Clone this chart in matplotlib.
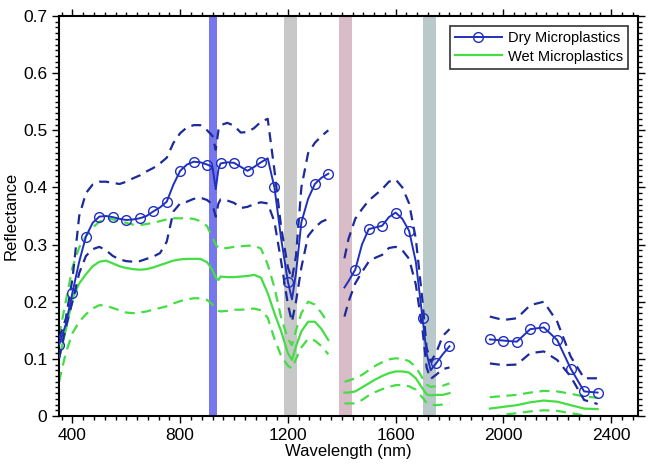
import numpy as np
import matplotlib
matplotlib.use("Agg")
import matplotlib.pyplot as plt
from matplotlib.lines import Line2D

plt.rcParams["font.family"] = ["Liberation Sans", "DejaVu Sans"]

# ── data (wavelength in nm, reflectance) ─────────────────────────────────────
wl_1 = [350, 375, 400, 425, 450, 475, 500, 525, 550, 575, 600, 625, 650, 675,
        700, 725, 750, 775, 800, 825, 850, 875, 900, 920, 932, 942, 950, 975,
        1000, 1025, 1050, 1075, 1100, 1125, 1150, 1175, 1200, 1215, 1230, 1250,
        1275, 1300, 1325, 1350]
wl_2 = [1410, 1425, 1450, 1475, 1500, 1525, 1550, 1575, 1600, 1625, 1650,
        1675, 1700, 1715, 1730, 1750, 1775, 1800]
wl_3 = [1950, 2000, 2050, 2100, 2150, 2200, 2250, 2300, 2350]

dry_mean_1 = [0.124, 0.160, 0.216, 0.270, 0.314, 0.338, 0.349, 0.350, 0.348,
              0.345, 0.343, 0.344, 0.346, 0.350, 0.358, 0.365, 0.375, 0.405,
              0.429, 0.440, 0.445, 0.444, 0.440, 0.436, 0.397, 0.432, 0.442,
              0.444, 0.443, 0.436, 0.429, 0.436, 0.444, 0.451, 0.400, 0.310,
              0.235, 0.204, 0.250, 0.339, 0.380, 0.406, 0.417, 0.424]
dry_hi_1 = [0.135, 0.170, 0.240, 0.350, 0.390, 0.405, 0.410, 0.410, 0.408,
            0.406, 0.410, 0.416, 0.421, 0.428, 0.434, 0.442, 0.452, 0.478,
            0.495, 0.505, 0.509, 0.509, 0.500, 0.490, 0.466, 0.500, 0.509,
            0.513, 0.508, 0.496, 0.497, 0.504, 0.515, 0.520, 0.430, 0.330,
            0.260, 0.240, 0.280, 0.400, 0.460, 0.478, 0.490, 0.500]
dry_lo_1 = [0.100, 0.155, 0.200, 0.250, 0.280, 0.292, 0.296, 0.290, 0.280,
            0.274, 0.271, 0.270, 0.271, 0.275, 0.279, 0.285, 0.305, 0.358,
            0.372, 0.375, 0.380, 0.382, 0.378, 0.370, 0.349, 0.372, 0.379,
            0.377, 0.373, 0.364, 0.366, 0.371, 0.374, 0.372, 0.340, 0.270,
            0.195, 0.165, 0.200, 0.260, 0.315, 0.330, 0.340, 0.345]
wet_mean_1 = [0.100, 0.150, 0.205, 0.232, 0.248, 0.262, 0.270, 0.272, 0.267,
              0.262, 0.259, 0.257, 0.256, 0.257, 0.260, 0.264, 0.268, 0.272,
              0.274, 0.275, 0.275, 0.275, 0.269, 0.255, 0.242, 0.238, 0.244,
              0.243, 0.243, 0.244, 0.245, 0.247, 0.242, 0.215, 0.180, 0.148,
              0.110, 0.098, 0.122, 0.148, 0.165, 0.165, 0.152, 0.133]
wet_hi_1 = [0.140, 0.200, 0.260, 0.295, 0.315, 0.330, 0.340, 0.346, 0.344,
            0.341, 0.338, 0.335, 0.334, 0.336, 0.338, 0.341, 0.344, 0.346,
            0.346, 0.346, 0.345, 0.341, 0.332, 0.312, 0.300, 0.294, 0.293,
            0.294, 0.296, 0.297, 0.298, 0.298, 0.293, 0.265, 0.225, 0.172,
            0.135, 0.124, 0.150, 0.180, 0.200, 0.195, 0.180, 0.162]
wet_lo_1 = [0.060, 0.110, 0.145, 0.165, 0.178, 0.188, 0.194, 0.193, 0.189,
            0.185, 0.181, 0.180, 0.181, 0.183, 0.186, 0.189, 0.192, 0.197,
            0.201, 0.204, 0.206, 0.206, 0.203, 0.195, 0.187, 0.184, 0.183,
            0.184, 0.186, 0.186, 0.187, 0.188, 0.185, 0.172, 0.135, 0.105,
            0.088, 0.083, 0.100, 0.120, 0.135, 0.132, 0.122, 0.108]

dry_mean_2 = [0.225, 0.236, 0.256, 0.300, 0.327, 0.330, 0.333, 0.348, 0.356,
              0.345, 0.324, 0.270, 0.171, 0.110, 0.080, 0.092, 0.108, 0.122]
dry_hi_2 = [0.276, 0.310, 0.345, 0.362, 0.377, 0.387, 0.397, 0.410, 0.414,
            0.400, 0.372, 0.310, 0.200, 0.120, 0.095, 0.110, 0.140, 0.152]
dry_lo_2 = [0.174, 0.200, 0.232, 0.252, 0.270, 0.277, 0.282, 0.294, 0.296,
            0.290, 0.275, 0.230, 0.150, 0.085, 0.065, 0.072, 0.082, 0.085]
wet_mean_2 = [0.041, 0.041, 0.043, 0.050, 0.057, 0.064, 0.070, 0.075, 0.078,
              0.078, 0.076, 0.066, 0.048, 0.038, 0.036, 0.037, 0.037, 0.040]
wet_hi_2 = [0.060, 0.062, 0.066, 0.072, 0.080, 0.088, 0.094, 0.099, 0.101,
            0.100, 0.096, 0.086, 0.066, 0.055, 0.051, 0.052, 0.053, 0.057]
wet_lo_2 = [0.022, 0.022, 0.022, 0.028, 0.036, 0.042, 0.047, 0.051, 0.054,
            0.054, 0.052, 0.046, 0.032, 0.023, 0.020, 0.019, 0.020, 0.022]

dry_mean_3 = [0.134, 0.132, 0.130, 0.152, 0.155, 0.133, 0.083, 0.043, 0.041]
dry_hi_3 = [0.174, 0.168, 0.171, 0.194, 0.200, 0.165, 0.104, 0.066, 0.066]
dry_lo_3 = [0.092, 0.089, 0.090, 0.110, 0.113, 0.098, 0.069, 0.028, 0.021]
wet_mean_3 = [0.013, 0.016, 0.019, 0.024, 0.027, 0.025, 0.019, 0.013, 0.012]
wet_hi_3 = [0.033, 0.035, 0.037, 0.041, 0.044, 0.043, 0.039, 0.034, 0.032]
wet_lo_3 = [-0.002, 0.002, 0.005, 0.008, 0.010, 0.009, 0.005, 0.001, -0.002]

# shaded absorption bands (nm) and their colours
bands = [(908, 938), (1187, 1234), (1388, 1437), (1700, 1750)]
band_colors = ["#7676ee", "#c8c8c8", "#d8bcc8", "#b9c9c9"]

DRY = "#1f2fc0"
DRY_DASH = "#1c2a9a"
WET = "#44dd44"

segments = [
    (wl_1, dry_mean_1, dry_hi_1, dry_lo_1, wet_mean_1, wet_hi_1, wet_lo_1),
    (wl_2, dry_mean_2, dry_hi_2, dry_lo_2, wet_mean_2, wet_hi_2, wet_lo_2),
    (wl_3, dry_mean_3, dry_hi_3, dry_lo_3, wet_mean_3, wet_hi_3, wet_lo_3),
]

fig = plt.figure(figsize=(6.55, 4.76), dpi=100)
ax = fig.add_axes([59 / 655, 60 / 476, 579 / 655, 400 / 476])

for (a, b), c in zip(bands, band_colors):
    ax.axvspan(a, b, color=c, lw=0, zorder=1)

dash = (0, (4.5, 3))
for wl, dm, dh, dl, wm, wh, wlo in segments:
    wl = np.asarray(wl)
    marks = list(np.where(wl % 50 == 0)[0])
    ax.plot(wl, wh, color=WET, lw=1.6, ls=dash, zorder=2)
    ax.plot(wl, wlo, color=WET, lw=1.6, ls=dash, zorder=2)
    ax.plot(wl, wm, color=WET, lw=1.6, zorder=2)
    ax.plot(wl, dh, color=DRY_DASH, lw=1.6, ls=dash, zorder=3)
    ax.plot(wl, dl, color=DRY_DASH, lw=1.6, ls=dash, zorder=3)
    ax.plot(wl, dm, color=DRY, lw=1.4, marker="o", markevery=marks,
            markersize=7, mfc="none", mec=DRY, mew=1.0, zorder=4)

ax.set_xlim(350, 2500)
ax.set_ylim(0, 0.7)
ax.set_xticks([400, 800, 1200, 1600, 2000, 2400])
ax.set_xticks(np.arange(360, 2500, 40), minor=True)
ax.set_yticks(np.arange(0, 0.71, 0.1))
ax.set_yticks(np.arange(0, 0.7, 0.01), minor=True)
ax.set_yticklabels(["0", "0.1", "0.2", "0.3", "0.4", "0.5", "0.6", "0.7"])
ax.tick_params(which="both", direction="out", top=True, right=True,
               labelsize=12.5, width=1.0)
ax.tick_params(which="major", length=5)
ax.tick_params(which="minor", length=3)
for s in ax.spines.values():
    s.set_linewidth(1.5)

ax.set_xlabel("Wavelength (nm)", fontsize=12, labelpad=1)
ax.set_ylabel("Reflectance", fontsize=12, labelpad=3)

handles = [
    Line2D([], [], color=DRY, lw=1.4, marker="o", mfc="none", mec=DRY,
           markersize=7),
    Line2D([], [], color=WET, lw=1.6),
]
leg = ax.legend(handles, ["Dry Microplastics", "Wet Microplastics"],
                loc="upper right", fontsize=10.5, frameon=True, fancybox=False,
                edgecolor="black", handlelength=3.2, borderpad=0.35,
                labelspacing=0.3, handletextpad=0.4,
                bbox_to_anchor=(0.995, 0.993))
leg.get_frame().set_linewidth(1.2)

fig.savefig("out.png", dpi=100)
